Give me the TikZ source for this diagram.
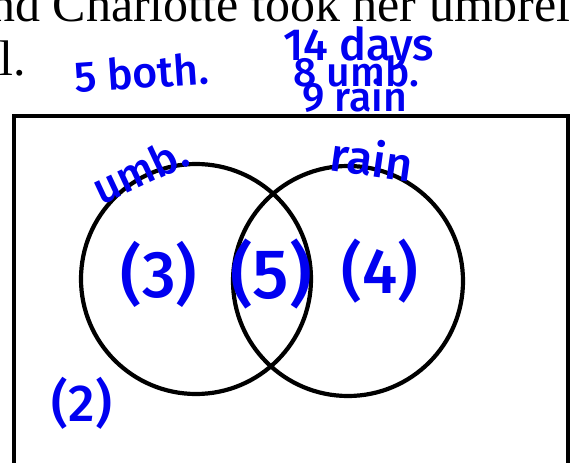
\documentclass[tikz,border=0pt]{standalone}
\usepackage{fontspec}
\setmainfont{Liberation Serif}
\newfontfamily\handfont{Fira Sans Medium}
\definecolor{inkblue}{RGB}{0, 0, 240}

\begin{document}
\begin{tikzpicture}[x=1pt, y=-1pt, every node/.style={inner sep=0pt},
  print/.style={anchor=base west, font=\fontsize{50}{50}\selectfont},
  hand/.style={text=inkblue, font=\handfont\fontsize{#1}{#1}\selectfont},
  pen/.style={line width=4.2pt}]
  \useasboundingbox (0,0) rectangle (573,463);
  \clip (0,0) rectangle (573,463);
  % printed question text, cut at the page edge
  \node[print] (line1) at (-10,21) {nd Charlotte took her umbrel};
  \node[print] (line2) at (-1,75) {l.};
  % universe and the two sets
  \draw[pen] (14,116) rectangle (568,465);
  \draw[pen] (196,279) circle[radius=115];
  \draw[pen] (348,281) circle[radius=115];
  % handwritten notes
  \node[hand=43, anchor=base west, rotate=4] (both) at (75,93) {5 both.};
  \node[hand=45, anchor=base west] (days) at (283,60) {14 days};
  \node[hand=41, anchor=base west] (numb) at (293,86) {8 umb.};
  \node[hand=41, anchor=base west] (nrain) at (302,111) {9 rain};
  \node[hand=44, rotate=25] (umb) at (140,170) {umb.};
  \node[hand=47, rotate=-8] (rain) at (372,158) {rain};
  \node[hand=66] (only) at (159,274) {(3)};
  \node[hand=70] (inter) at (271,274) {(5)};
  \node[hand=64] (onlyr) at (380,271) {(4)};
  \node[hand=52] (none) at (82,403) {(2)};
\end{tikzpicture}
\end{document}
